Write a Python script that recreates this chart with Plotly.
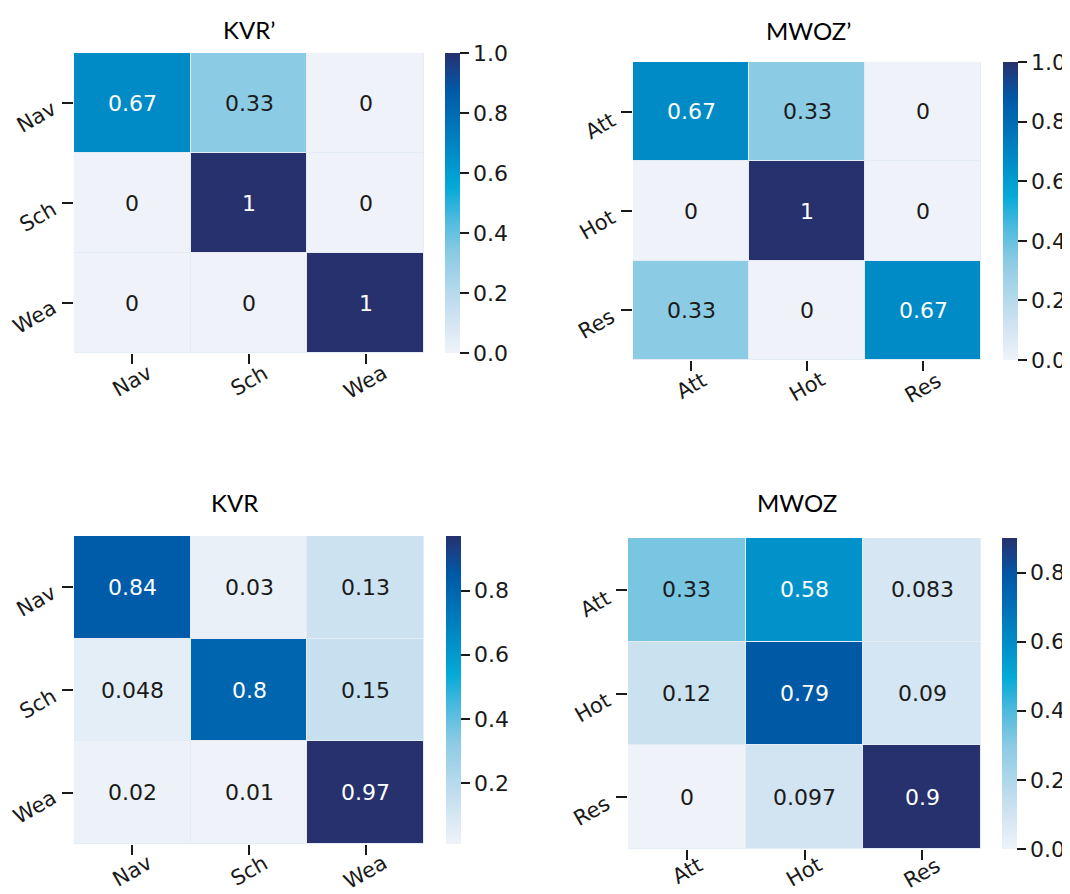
import plotly.graph_objects as go

PAGE_W, PAGE_H = 1070, 894
OFF = 8  # default body margin of the html page
W, H = PAGE_W - OFF, PAGE_H - OFF

kvr_labels = ["Nav", "Sch", "Wea"]
mwoz_labels = ["Att", "Hot", "Res"]

kvr_p = [[0.67, 0.33, 0], [0, 1, 0], [0, 0, 1]]
mwoz_p = [[0.67, 0.33, 0], [0, 1, 0], [0.33, 0, 0.67]]
kvr = [[0.84, 0.03, 0.13], [0.048, 0.8, 0.15], [0.02, 0.01, 0.97]]
mwoz = [[0.33, 0.58, 0.083], [0.12, 0.79, 0.09], [0, 0.097, 0.9]]

titles = ["KVR\u2019", "MWOZ\u2019", "KVR", "MWOZ"]
cbar_ticks = [[0, 0.2, 0.4, 0.6, 0.8, 1.0], [0, 0.2, 0.4, 0.6, 0.8, 1.0],
              [0.2, 0.4, 0.6, 0.8], [0, 0.2, 0.4, 0.6, 0.8]]

colorscale = [
    [0.0, "#eff3f9"],
    [0.125, "#cde2f1"],
    [0.33, "#8ccbe4"],
    [0.45, "#4ab9de"],
    [0.55, "#05aad8"],
    [0.66, "#008ec8"],
    [0.82, "#0066b0"],
    [0.88, "#0058a5"],
    [0.94, "#15448c"],
    [1.0, "#26316d"],
]

# panel boxes in page pixels: (left, right, top, bottom), colorbar left, title x, title y, x-label gap
panels = [
    dict(z=kvr_p, labels=kvr_labels, box=(74, 424, 53, 353), cb=445, tx=249, ty=30, gap=5),
    dict(z=mwoz_p, labels=mwoz_labels, box=(633, 981, 62, 360), cb=1003, tx=808, ty=31, gap=5),
    dict(z=kvr, labels=kvr_labels, box=(74, 424, 536, 844), cb=446, tx=234, ty=502, gap=4),
    dict(z=mwoz, labels=mwoz_labels, box=(628, 981, 538, 849), cb=1002, tx=797, ty=502, gap=1),
]


def px(v):
    return (v - OFF) / W


def py(v):
    return 1 - (v - OFF) / H


FONT = "DejaVu Sans"
TXT = "#1a1a1a"

fig = go.Figure()
annotations = []
for i, p in enumerate(panels):
    n = i + 1
    xa = "x" if n == 1 else f"x{n}"
    ya = "y" if n == 1 else f"y{n}"
    l, r, t, b = p["box"]
    z = p["z"]
    zmin = min(min(row) for row in z)
    zmax = max(max(row) for row in z)
    fig.add_trace(go.Heatmap(
        z=z, x=p["labels"], y=p["labels"], xaxis=xa, yaxis=ya,
        zmin=zmin, zmax=zmax, colorscale=colorscale, xgap=1, ygap=1,
        hoverinfo="skip",
        colorbar=dict(
            x=px(p["cb"]), xanchor="left", xref="paper", xpad=0, ypad=0,
            y=py((t + b) / 2), yanchor="middle",
            len=b - t, lenmode="pixels", thickness=15, thicknessmode="pixels",
            outlinewidth=0, ticks="outside", ticklen=9, tickwidth=1.5, tickcolor=TXT,
            tickvals=cbar_ticks[i], tickformat=".1f",
            tickfont=dict(family=FONT, size=22, color=TXT),
        ),
    ))
    fig.layout[("xaxis" if n == 1 else f"xaxis{n}")] = dict(
        domain=[px(l), px(r)], anchor=ya, showgrid=False, zeroline=False,
        ticks="outside", ticklen=10, tickwidth=1.5, tickcolor=TXT,
        showticklabels=False, showline=False,
    )
    fig.layout[("yaxis" if n == 1 else f"yaxis{n}")] = dict(
        domain=[py(b), py(t)], anchor=xa, showgrid=False, zeroline=False,
        autorange="reversed",
        ticks="outside", ticklen=11, tickwidth=1.5, tickcolor=TXT,
        showticklabels=False, showline=False,
    )
    # cell values
    for ri, row in enumerate(z):
        for ci, v in enumerate(row):
            rel = (v - zmin) / (zmax - zmin)
            annotations.append(dict(
                x=p["labels"][ci], y=p["labels"][ri], xref=xa, yref=ya,
                text=format(v, ".2g"), showarrow=False,
                font=dict(family=FONT, size=22, color="white" if rel > 0.5 else TXT),
            ))
    # tick labels
    for lab in p["labels"]:
        annotations.append(dict(
            x=lab, y=py(b + p["gap"]), xref=xa, yref="paper",
            text=lab, showarrow=False, textangle=-30,
            xanchor="center", yanchor="top",
            font=dict(family=FONT, size=21, color=TXT),
        ))
        annotations.append(dict(
            x=px(l - 11), y=lab, xref="paper", yref=ya,
            text=lab, showarrow=False, textangle=-30,
            xanchor="right", yanchor="middle", yshift=-14,
            font=dict(family=FONT, size=21, color=TXT),
        ))
    annotations.append(dict(
        x=px(p["tx"]), y=py(p["ty"]), xref="paper", yref="paper",
        text=titles[i], showarrow=False, xanchor="center", yanchor="middle",
        font=dict(family="Lato", size=24, color="#000000"),
    ))

fig.update_layout(
    width=W, height=H, margin=dict(l=0, r=0, t=0, b=0, autoexpand=False),
    paper_bgcolor="white", plot_bgcolor="#e4ecf5",
    annotations=annotations, showlegend=False,
)

fig.write_html("out.html")
